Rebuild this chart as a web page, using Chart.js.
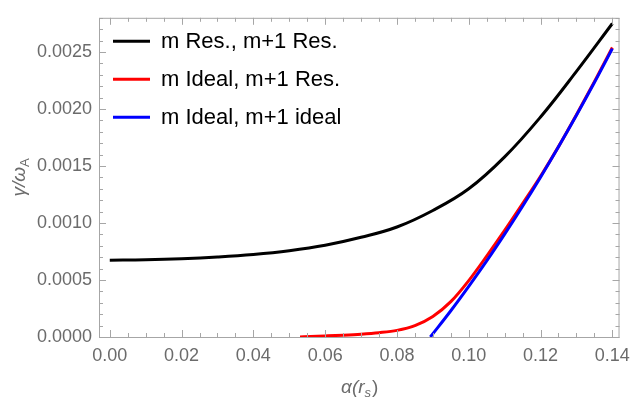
<!DOCTYPE html>
<html>
<head>
<meta charset="utf-8">
<script src="https://cdn.jsdelivr.net/npm/chart.js@4/dist/chart.umd.min.js"></script>
<style>
  html, body { margin: 0; padding: 0; background: #fff; }
  #wrap { width: 638px; height: 403px; }
</style>
</head>
<body>
<div id="wrap"><canvas id="chart"></canvas></div>
<script>
// series
const labels = ["m Res., m+1 Res.", "m Ideal, m+1 Res.", "m Ideal, m+1 ideal"];
const colors = ["#000000", "#ff0000", "#0000ff"];

const blackX = [0, 0.01, 0.02, 0.03, 0.04, 0.05, 0.06, 0.07, 0.08, 0.09, 0.10, 0.11, 0.12, 0.13, 0.14];
const blackY = [0.000674, 0.000678, 0.000687, 0.000702, 0.000724, 0.000757, 0.000805, 0.000875, 0.000965, 0.00111, 0.00130, 0.00158, 0.00193, 0.00233, 0.00275];

const redX = [0.053, 0.056, 0.06, 0.065, 0.07, 0.075, 0.08, 0.085, 0.09, 0.095, 0.10, 0.105, 0.11, 0.115, 0.12, 0.125, 0.13, 0.135, 0.14];
const redY = [0, 0.000004, 0.000009, 0.000016, 0.000025, 0.000038, 0.000058, 0.0001, 0.00018, 0.00031, 0.000495, 0.00071, 0.000935, 0.00117, 0.00141, 0.00167, 0.00195, 0.00224, 0.00254];

const blueX = [0.0893, 0.095, 0.10, 0.105, 0.11, 0.115, 0.12, 0.125, 0.13, 0.135, 0.14];
const blueY = [0, 0.00023, 0.000444, 0.000667, 0.000902, 0.001147, 0.001402, 0.001669, 0.001945, 0.002232, 0.00253];

const xTicks = [0, 0.02, 0.04, 0.06, 0.08, 0.10, 0.12, 0.14];
const yTicks = [0, 0.0005, 0.001, 0.0015, 0.002, 0.0025];

const toPoints = (xs, ys) => xs.map((x, i) => ({ x: x, y: ys[i] }));

const tickColor = "#a6a6a6";
const labelColor = "#6b6b6b";
const fontName = "'Liberation Sans', Arial, sans-serif";

// frame, inward ticks on all four sides, legend, axis titles
const framePlugin = {
  id: "frame",
  afterDatasetsDraw(chart) {
    let ctx = chart.ctx;
    let a = chart.chartArea;
    let xs = chart.scales.x;
    let ys = chart.scales.y;
    ctx.save();
    ctx.strokeStyle = tickColor;
    ctx.lineWidth = 1;
    ctx.strokeRect(a.left + 0.5, a.top + 0.5, a.right - a.left - 1, a.bottom - a.top);

    ctx.beginPath();
    // x: major every 0.02, minor every 0.005
    for (let k = 0; k <= 28; k++) {
      let v = k * 0.005;
      let px = Math.round(xs.getPixelForValue(v)) + 0.5;
      if (px < a.left || px > a.right) continue;
      let len = k % 4 === 0 ? 7 : 4;
      ctx.moveTo(px, a.bottom);
      ctx.lineTo(px, a.bottom - len);
      ctx.moveTo(px, a.top);
      ctx.lineTo(px, a.top + len);
    }
    // y: major every 0.0005, minor every 0.0001
    for (let k = 0; k <= 28; k++) {
      let v = k * 0.0001;
      let py = Math.round(ys.getPixelForValue(v)) + 0.5;
      if (py < a.top || py > a.bottom + 1) continue;
      let len = k % 5 === 0 ? 7 : 4;
      ctx.moveTo(a.left, py);
      ctx.lineTo(a.left + len, py);
      ctx.moveTo(a.right, py);
      ctx.lineTo(a.right - len, py);
    }
    ctx.stroke();
    ctx.restore();
  },
  afterDraw(chart) {
    let ctx = chart.ctx;
    let a = chart.chartArea;
    ctx.save();

    // legend inside the plot
    ctx.font = "22px " + fontName;
    ctx.textBaseline = "middle";
    chart.data.datasets
      .slice()
      .sort((p, q) => p.legendIndex - q.legendIndex)
      .forEach((ds, i) => {
        let y = a.top + 23.5 + i * 38;
        ctx.strokeStyle = ds.borderColor;
        ctx.lineWidth = 3;
        ctx.beginPath();
        ctx.moveTo(a.left + 14, y);
        ctx.lineTo(a.left + 51, y);
        ctx.stroke();
        ctx.fillStyle = "#000";
        ctx.textAlign = "left";
        ctx.fillText(ds.label, a.left + 62, y + 1);
      });

    // x title: α(r_s)
    ctx.fillStyle = labelColor;
    ctx.textBaseline = "alphabetic";
    ctx.textAlign = "left";
    let main = "19px " + fontName;
    let sub = "13px " + fontName;
    ctx.font = "italic " + main;
    let w1 = ctx.measureText("α(r").width;
    ctx.font = "italic " + sub;
    let w2 = ctx.measureText("s").width;
    ctx.font = main;
    let w3 = ctx.measureText(")").width;
    let cx = (a.left + a.right) / 2;
    let x0 = cx - (w1 + w2 + w3) / 2;
    let base = 393;
    ctx.font = "italic " + main;
    ctx.fillText("α(r", x0, base);
    ctx.font = "italic " + sub;
    ctx.fillText("s", x0 + w1, base + 4);
    ctx.font = main;
    ctx.fillText(")", x0 + w1 + w2 + 1, base);

    // y title: γ/ω_A, rotated
    ctx.translate(25, (a.top + a.bottom) / 2);
    ctx.rotate(-Math.PI / 2);
    ctx.font = "italic " + main;
    let v1 = ctx.measureText("γ/ω").width;
    ctx.font = sub;
    let v2 = ctx.measureText("A").width;
    let y0 = -(v1 + v2) / 2;
    ctx.font = "italic " + main;
    ctx.fillText("γ/ω", y0, 0);
    ctx.font = sub;
    ctx.fillText("A", y0 + v1, 4);
    ctx.restore();
  },
};

let ctx = document.getElementById("chart").getContext("2d");

let data = {
  datasets: [
    {
      label: labels[0],
      data: toPoints(blackX, blackY),
      borderColor: colors[0],
      order: 2,
      legendIndex: 0,
    },
    {
      label: labels[1],
      data: toPoints(redX, redY),
      borderColor: colors[1],
      order: 1,
      legendIndex: 1,
      cubicInterpolationMode: "monotone",
    },
    {
      label: labels[2],
      data: toPoints(blueX, blueY),
      borderColor: colors[2],
      order: 0,
      legendIndex: 2,
    },
  ],
};

let options = {
  responsive: false,
  animation: false,
  events: [],
  layout: { padding: { top: 9, right: 10, left: 0, bottom: 0 } },
  elements: {
    point: { radius: 0 },
    line: { borderWidth: 3, tension: 0.4, fill: false },
  },
  plugins: { legend: { display: false }, tooltip: { enabled: false } },
  scales: {
    x: {
      type: "linear",
      min: -0.003,
      max: 0.142,
      grid: { display: false, drawTicks: false },
      border: { display: false },
      afterBuildTicks: (s) => { s.ticks = xTicks.map((v) => ({ value: v })); },
      afterFit: (s) => { s.height = 66; },
      ticks: {
        padding: 8,
        color: labelColor,
        font: { family: fontName, size: 18 },
        maxRotation: 0,
        callback: (v) => v.toFixed(2),
      },
    },
    y: {
      type: "linear",
      min: 0,
      max: 0.0028,
      grid: { display: false, drawTicks: false },
      border: { display: false },
      afterBuildTicks: (s) => { s.ticks = yTicks.map((v) => ({ value: v })); },
      afterFit: (s) => { s.width = 99; },
      ticks: {
        padding: 7,
        color: labelColor,
        font: { family: fontName, size: 18 },
        callback: (v) => v.toFixed(4),
      },
    },
  },
};

let canvas = document.getElementById("chart");
canvas.width = 638;
canvas.height = 403;

new Chart(ctx, {
  type: "line",
  data,
  options,
  plugins: [framePlugin],
});
</script>
</body>
</html>
